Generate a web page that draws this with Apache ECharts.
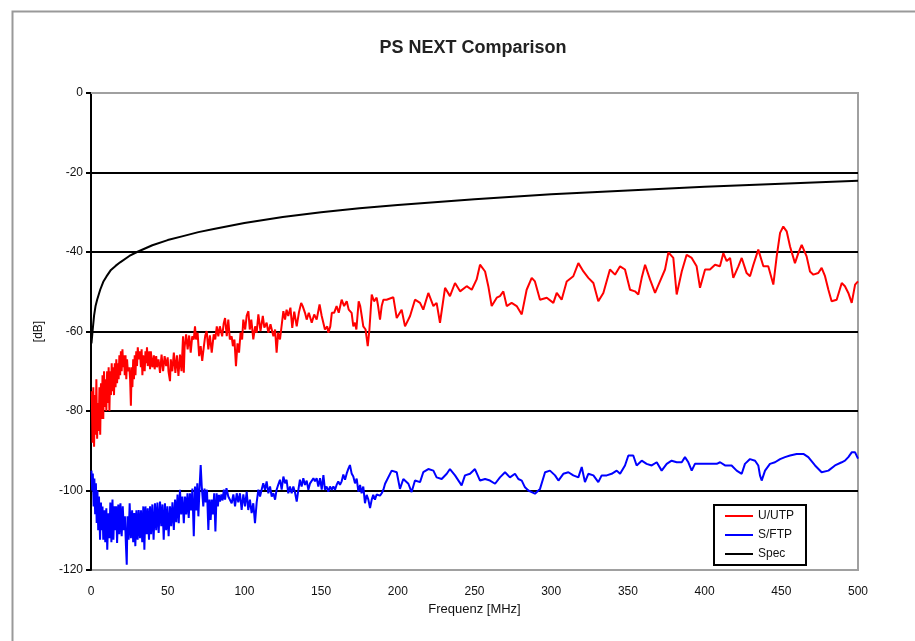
<!DOCTYPE html>
<html>
<head>
<meta charset="utf-8">
<script src="https://cdn.jsdelivr.net/npm/echarts@6/dist/echarts.min.js"></script>
<style>
html,body{margin:0;padding:0;background:#fff;}
#c{width:915px;height:641px;}
</style>
</head>
<body>
<div id="c"></div>
<script>
const titleText = 'PS NEXT Comparison';
const xName = 'Frequenz [MHz]';
const yName = '[dB]';
const seriesNames = ['U/UTP', 'S/FTP', 'Spec'];

const uutp = [
[0.5,-75],[1,-88],[1.5,-74],[2,-89],[2.5,-76],[3,-86],[3.5,-72],[4,-87],[4.5,-78],[5,-85],[5.5,-74],[6,-86],[6.5,-73],[7,-82],[7.5,-71],[8,-82],[8.5,-70],[9,-79],[9.5,-72],[10,-80],[10.5,-70],[11,-78],[11.5,-69],[12,-80],[12.5,-70],[13,-76],[13.5,-68],[14,-75],[14.5,-69],[15,-76],[15.5,-68],[16,-74],[16.5,-67],[17,-73],[17.5,-68],[18,-72],[18.5,-66],[19,-71],[19.5,-65],[20,-70],[20.5,-64.5],[21,-69],[21.5,-66],[22,-71],[22.5,-66],[23,-72],[23.5,-67],[24,-70],[25,-69],[25.5,-72],[26,-78.7],[26.5,-69],[27,-74],[27.5,-67],[28,-72],[28.5,-66],[29,-71],[29.5,-65],[30,-68.7],[30.5,-64],[31,-67],[32,-65],[32.5,-69],[33,-64.5],[33.5,-71],[34,-66],[35,-70],[35.5,-65],[36,-68],[36.5,-64],[37,-68.7],[38,-65],[38.5,-69.5],[39,-65],[40,-69],[41,-66],[41.5,-69.5],[42.5,-66.2],[43,-69],[44,-67],[45,-70.4],[46,-65.8],[47,-70],[48,-66.2],[49,-68.7],[50,-66.5],[50.5,-70],[51.5,-72.5],[52,-67],[53,-70],[54,-65.3],[55,-70.4],[56,-66],[57,-71.2],[58,-65.8],[59,-70],[60,-61.2],[60.5,-70.4],[61,-64],
[62,-60.7],[63,-64.5],[64,-61],[65,-65.3],[66,-61.2],[67,-62],[67.8,-58.7],[68.5,-62],[69.5,-60.3],[70.5,-66.2],[71.5,-63.7],[72.5,-67.4],[73.5,-64],[74.5,-61],[75.4,-59.9],[76.5,-64.5],[77.5,-61],[78.7,-65.3],[80,-60.7],[81,-62],[82,-58.7],[83,-61.2],[84,-58.7],[85.5,-61.2],[86.5,-58],[87.4,-56.6],[88.5,-61.2],[89.5,-57],[90.5,-62],[91.7,-61.2],[92.5,-63.7],[93.5,-62],[94.5,-68.7],[95.5,-63],[96.5,-65.3],[97.5,-60.3],[98.5,-62],[99.3,-57],[100.5,-59.5],[101.5,-56],[102.6,-54.9],[103.5,-59.5],[104.5,-57],[105.8,-62],[107,-58.7],[108,-60.3],[109.1,-55.7],[110.5,-59.9],[112,-56.1],[113,-59],[114.5,-57.8],[115.6,-60.3],[117,-58.2],[118.9,-61.2],[120,-59.5],[121,-65.3],[122,-60.3],[123.2,-62],[124.5,-57.8],[125.4,-54.9],[126.5,-57],[127.5,-54.5],[128.6,-56.1],[130,-54],[131.2,-59.1],[132.5,-55],[134.1,-58.7],[135.5,-55.3],[137,-52.8],[138,-53.6],[139.5,-55.3],[140.6,-57],[142,-55.3],[143.9,-57.8],[145.5,-55.7],[147.1,-57],[149,-53.2],[150.4,-56.1],[151.5,-56.1],[152.5,-59.5],[154,-58.7],[154.7,-60.3],[156,-58.7],[157,-55.3],[158.5,-55.3],[160.1,-53.6],[161.5,-55.3],[163.4,-52],[165,-53.6],[166.7,-52.4],[168,-54.5],[169.9,-55.3],[171,-58.7],[172.1,-57.8],[173,-59.5],[174.5,-52.4],[175.5,-53.6],[176.5,-56.1],[177.5,-58.7],[179,-59.5],[180.4,-63.7],[181.5,-59.5],[183,-50.7],[184.5,-52.4],[186.2,-51.5],[187,-53.2],[188.4,-57],[189.5,-53.6],[190.6,-52],
[192.7,-52],[197.1,-51.4],[199.3,-56.6],[202.5,-54.5],[204.7,-58.7],[208,-56.1],[211.2,-52],[214.5,-52.8],[216.6,-54.5],[219.9,-50.3],[223.2,-53.6],[225.3,-52.8],[227.5,-57.8],[230.8,-49],[234,-51.1],[237.3,-47.8],[240.6,-49.9],[244.9,-48.6],[248.2,-49.5],[251.4,-46.9],[253.6,-43.2],[256.9,-44.9],[259,-48.6],[261.2,-53.6],[264.5,-51.5],[266.6,-51.1],[268.8,-49.9],[271,-53.6],[274.2,-52.8],[277.5,-53.6],[280.8,-55.7],[284,-49.5],[287.3,-46.5],[289.4,-47.4],[292.7,-52],[297.1,-51.5],[301.4,-52.8],[303.6,-50.3],[306.8,-52],[310.1,-47.4],[314.4,-46.1],[317.7,-42.8],[321,-44.9],[324.2,-46.5],[327.5,-47.8],[330.7,-52.4],[334,-50.3],[338.3,-44.4],[341.6,-45.7],[344.9,-43.6],[348.1,-44.4],[351.4,-49.5],[354.6,-49.9],[356.8,-50.7],[359,-46.5],[361.2,-43.2],[364.4,-46.9],[367.7,-50.3],[370.9,-47.4],[374.2,-44.4],[376.4,-40.1],[379.6,-41.5],[381.8,-50.7],[385.1,-44.9],[388.3,-40.7],[391.6,-41.5],[394.8,-43.6],[397,-49],[400.3,-44.4],[403.5,-44.4],[406.8,-43.2],[410,-43.6],[412.2,-40.3],[414.4,-42.3],[416.6,-41.5],[418.7,-46.5],[422,-43.6],[424.2,-41.5],[427.4,-45.3],[429.6,-46.1],[431.8,-43.2],[435,-39.4],[438.3,-43.6],[441.5,-43.6],[444.8,-48.2],[447,-41.1],[449.2,-35.2],[451.3,-33.6],[453.5,-34.8],[455.7,-38.6],[458.9,-42.8],[461.1,-40.3],[463.3,-38.2],[466.5,-41.1],[468.7,-44.9],[470.9,-45.7],[474.1,-45.3],[476.3,-44],[478.5,-46.1],[480.7,-49.5],[482.8,-52.4],[486.1,-52],[489.4,-47.8],[491.5,-48.6],[493.7,-50.3],[495.9,-52.8],[498.1,-48.2],[500,-47.4]
];

const sftp = [
[0.3,-95],[0.8,-100],[1.2,-95.7],[1.7,-104],[2.2,-97],[2.7,-106],[3.2,-98.2],[3.7,-108.2],[4.2,-100],[4.7,-110],[5.2,-101.5],[5.9,-112.4],[6.5,-103],[7,-110],[7.5,-104],[8,-112.4],[8.7,-105],[9.3,-113],[10,-104.5],[10.6,-114.9],[11.3,-105.7],[12,-112],[12.6,-103],[13.3,-113],[14,-102.3],[14.6,-112.4],[15.2,-104],[15.8,-110],[16.4,-104],[17,-113.2],[17.8,-103.5],[18.5,-111],[19.2,-103.2],[20,-111.5],[20.7,-104],[21.4,-110],[22.1,-106.5],[22.8,-114],[23.3,-118.7],[23.8,-106.5],[24.5,-112.4],[25.2,-103.2],[26,-112],[26.8,-105],[27.5,-113],[28.2,-105.7],[28.9,-114],[29.6,-105],[30.4,-112.4],[31.1,-104.9],[31.9,-112],[32.6,-105],[33.4,-113],[34.1,-104],[34.8,-114.9],[35.5,-104],[36.3,-111],[37,-104.5],[37.8,-112.4],[38.5,-104],[39.2,-111],[40,-103.5],[40.8,-112.4],[41.7,-103.2],[42.5,-110],[43.3,-103],[44.1,-110.7],[45,-102.8],[45.8,-109],[46.6,-103.5],[47.4,-112.4],[48.2,-103.2],[49,-110],[49.8,-104],[50.6,-111.5],[51.5,-104],[52.3,-109],[53.1,-103],[54,-109.9],[54.8,-102.3],[55.6,-108],[56.4,-101],[57.2,-108.2],[58,-99.8],[58.8,-106],[59.6,-101.5],[60.5,-108.2],[61.3,-101.5],[62.1,-106],[62.9,-100.7],[63.7,-106.9],[64.5,-100.7],[65.3,-105],[66.1,-99.5],[67,-111.5],[67.8,-99],[68.6,-105],[69.3,-98.2],[70,-106.5],[70.8,-99],[71.5,-93.6],[72.2,-99],[73.2,-104],[74,-99.5],[74.8,-103],[75.6,-99.8],[76.5,-109.9],[77.2,-102.3],[78,-107.4],[78.7,-102.3],[79.5,-106],[80.3,-100.7],[81.1,-110.3],[81.9,-100.7],[82.7,-104],[83.4,-101.1],[84.1,-102.8],[85,-101],[85.8,-102.5],[86.6,-99.8],[87.4,-102.3],[88.3,-99.4],[89.5,-101.5],[90.6,-101.5],[91.7,-103.2],[92.8,-101],[93.9,-104],[95,-100.7],[96,-103],[97.1,-100.7],[98.2,-104.9],[99.3,-101],[100.4,-104],[101.5,-100.3],[102.5,-104.9],[103.6,-102.3],[104.7,-105.7],[105.8,-103.2],[106.9,-108.2],[108,-103],[109.1,-99.8],[110.2,-101.5],[111.2,-99.8],[112.3,-98.2],[113.4,-99.8],[114.5,-97.7],[115.6,-100.7],[116.7,-99],[117.8,-101.5],[118.9,-100.7],[120,-102.3],[121,-99.8],[122.1,-98.5],[123.2,-97.3],[124.3,-99.8],[125.4,-96.5],[126.5,-98.2],[127.5,-97.3],[128.6,-100.7],[129.7,-99],[130.8,-100.7],[131.9,-99],[133,-100.5],[134.1,-102.8],[135.2,-99.8],[136.2,-97.3],[137.3,-99],[138.4,-96.9],[139.5,-98.6],[140.6,-97.5],[141.7,-99.8],[142.8,-98.2],[143.9,-97.7],[145,-96.9],[146,-97.7],[147.1,-96.9],[148.2,-99],[149.3,-96.9],[150.4,-99.8],[151.5,-96.1],[152.5,-99.8],[153.6,-99],[154.7,-100.3],[155.8,-99],[156.9,-99.8],[158,-99],[159.1,-99.8],[160.1,-98.6],[161.2,-97.7],[162.3,-98.6],[163.4,-97.7],[164.5,-96],[165.6,-97.3],[166.7,-95.7],[167.8,-94.5],[168.8,-93.6],[169.9,-95.7],[171,-96.5],[172.1,-98.2],[173.2,-97],[174.3,-100.3],[175.4,-98.6],[176.4,-100.7],[177.5,-99],[178.6,-103.2],[179.7,-101.1],[180.8,-102.3],[181.9,-104.4],[183,-102.3],[184,-101.1],[185.1,-102.3],[186.2,-101],[187.3,-101.5],[188.4,-101.3],[189.5,-100.7],[190.6,-99.8],[191.7,-98.3],
[196,-95],[199.3,-95.4],[201.4,-99.6],[203.6,-97.1],[206.9,-98.3],[209,-100.4],[211.2,-97.5],[214.5,-97.9],[216.6,-95.4],[219.9,-94.6],[223.2,-95],[225.3,-96.7],[228.6,-97.1],[231.9,-95.8],[234,-94.6],[237.3,-96.2],[241.6,-98.7],[243.8,-96.2],[247.1,-95.8],[250.3,-94.6],[253.6,-97.5],[256.9,-97.1],[260.1,-97.5],[263.4,-98.3],[266.6,-96.7],[269.9,-95.4],[273.1,-96.7],[276.4,-95.8],[278.6,-97.1],[280.8,-97.5],[282.9,-99.2],[285.1,-100],[287.3,-100.4],[289.4,-100.8],[292.7,-99.6],[296,-95.4],[299.2,-95],[302.5,-96.2],[304.7,-97.5],[307.9,-95.8],[311.2,-95.4],[314.4,-96.2],[317.7,-96.7],[319.9,-94.1],[322,-97.9],[324.2,-95.8],[327.5,-96.2],[330.7,-97.9],[332.9,-96.2],[336.2,-96.2],[339.4,-95.8],[342.7,-95],[344.9,-95.8],[348.1,-93.7],[350.3,-91.2],[353.5,-91.2],[355.7,-93.7],[359,-92.5],[362.2,-93.3],[365.5,-93.7],[368.8,-92.9],[372,-95],[375.3,-93.3],[378.5,-92.5],[381.8,-92.9],[385.1,-92.9],[387.2,-91.6],[389.4,-92.9],[391.6,-95],[393.7,-93.3],[401.4,-93.3],[407.9,-93.3],[410.1,-92.9],[413.3,-93.7],[417.6,-93.7],[420.9,-95],[424.2,-95.8],[426.3,-93.3],[429.6,-92.1],[432.9,-92.5],[435,-93.7],[436.1,-96.2],[437.2,-97.5],[439.4,-95],[442.6,-93.3],[445.9,-92.9],[449.2,-92.1],[452.4,-91.6],[455.7,-91.2],[460,-90.8],[464.4,-90.8],[467.6,-91.6],[472,-93.7],[476.3,-95.4],[480.7,-95],[485,-93.7],[489.4,-92.9],[491.5,-92.5],[493.7,-91.6],[495.9,-90.4],[498.1,-90.4],[500,-92]
];

const spec = [
[0.3,-63],[1,-60],[2,-56],[3,-53.5],[4,-52],[6,-49.5],[8,-47.5],[10,-46.2],[13,-44.5],[16,-43.5],[19,-42.6],[25,-41],[30,-40],[40,-38.3],[50,-37],[60,-36],[70,-35],[80,-34.2],[100,-32.7],[125,-31.2],[150,-30],[175,-29],[200,-28.2],[250,-26.7],[300,-25.5],[350,-24.5],[400,-23.6],[450,-22.8],[500,-22.1]
];

const colors = ['#ff0000', '#0000ff', '#000000'];
const font = '"Liberation Sans", Arial, sans-serif';

const chart = echarts.init(document.getElementById('c'), null, {renderer: 'canvas'});
chart.setOption({
  backgroundColor: '#ffffff',
  animation: false,
  title: {
    text: titleText, left: 468, textAlign: 'center', top: 34,
    textStyle: {fontFamily: font, fontSize: 18, fontWeight: 'bold', color: '#222'}
  },
  graphic: [{
    type: 'rect', left: 10, top: 9, silent: true, z: -1,
    shape: {width: 920, height: 660},
    style: {fill: 'none', stroke: '#999', lineWidth: 2}
  }],
  grid: {left: 91, right: 57, top: 93, bottom: 71, show: true, borderColor: '#a0a0a0', borderWidth: 2, backgroundColor: '#fff'},
  legend: {
    orient: 'vertical', left: 714, top: 505,
    data: seriesNames,
    icon: 'rect', itemWidth: 28, itemHeight: 2, itemGap: 7, itemTextGap: 3,
    padding: [5, 12, 5, 11],
    backgroundColor: '#fff', borderColor: '#000', borderWidth: 2,
    textStyle: {fontFamily: font, fontSize: 12, color: '#111'}
  },
  xAxis: {
    type: 'value', min: 0, max: 500, interval: 50,
    name: xName, nameLocation: 'middle', nameGap: 33,
    nameTextStyle: {fontFamily: font, fontSize: 13, color: '#111'},
    axisLine: {show: true, lineStyle: {color: '#a0a0a0', width: 2}},
    axisTick: {show: false},
    axisLabel: {fontFamily: font, fontSize: 12, color: '#111', margin: 16},
    splitLine: {show: false}
  },
  yAxis: {
    type: 'value', min: -120, max: 0, interval: 20,
    name: yName, nameLocation: 'middle', nameGap: 46, nameRotate: 90,
    nameTextStyle: {fontFamily: font, fontSize: 12, color: '#111'},
    axisLine: {show: true, onZero: false, lineStyle: {color: '#000', width: 2}},
    axisTick: {show: true, length: 5, lineStyle: {color: '#000', width: 2}},
    axisLabel: {fontFamily: font, fontSize: 12, color: '#111', margin: 8},
    splitLine: {show: true, lineStyle: {color: ['#a0a0a0','#000','#000','#000','#000','#000','#000'], width: 2}}
  },
  series: [
    {name: seriesNames[0], type: 'line', data: uutp, showSymbol: false, symbol: 'none', lineStyle: {color: colors[0], width: 2}, itemStyle: {color: colors[0]}, z: 3},
    {name: seriesNames[1], type: 'line', data: sftp, showSymbol: false, symbol: 'none', lineStyle: {color: colors[1], width: 2}, itemStyle: {color: colors[1]}, z: 3},
    {name: seriesNames[2], type: 'line', data: spec, showSymbol: false, symbol: 'none', lineStyle: {color: colors[2], width: 2}, itemStyle: {color: colors[2]}, z: 4}
  ]
});
</script>
</body>
</html>
